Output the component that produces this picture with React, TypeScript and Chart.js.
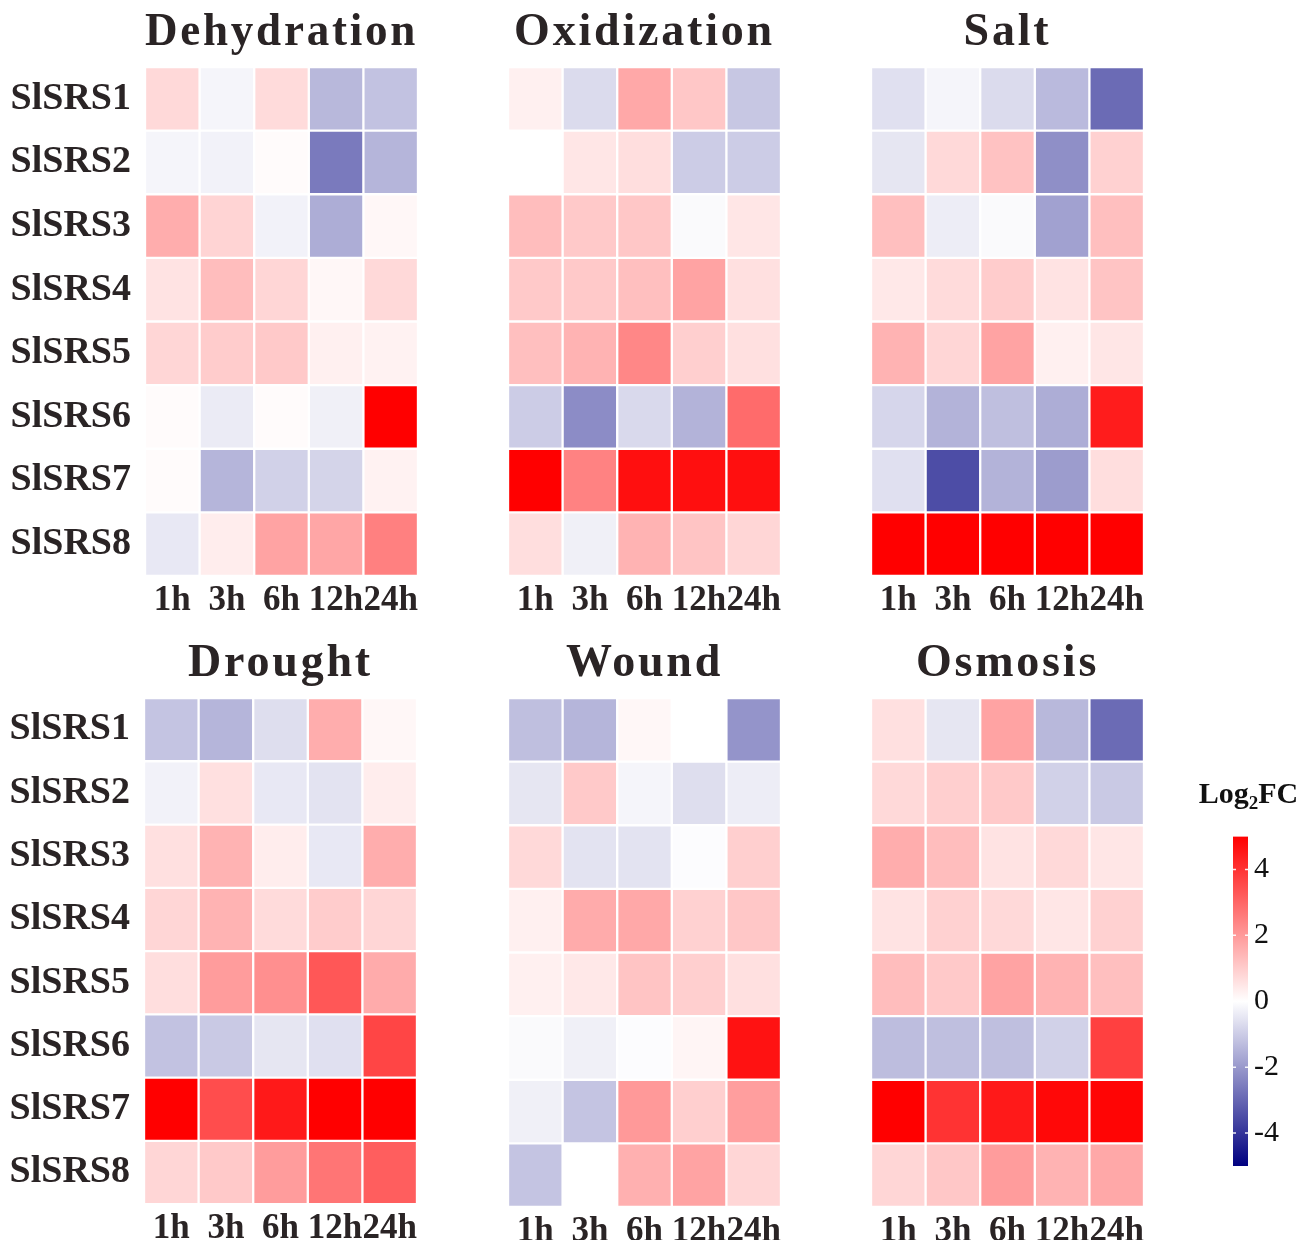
import React, { useEffect, useRef } from 'react';
import { Chart, registerables } from 'chart.js';

Chart.register(...registerables);

// ---------------- data ----------------
const TIMES = ['1h', '3h', '6h', '12h', '24h'];
const GENES = ['SlSRS1', 'SlSRS2', 'SlSRS3', 'SlSRS4', 'SlSRS5', 'SlSRS6', 'SlSRS7', 'SlSRS8'];

const DEHYDRATION = [
  [0.75, -0.2, 0.7, -1.4, -1.2],
  [-0.2, -0.25, 0.08, -2.6, -1.45],
  [1.6, 0.85, -0.25, -1.6, 0.15],
  [0.55, 1.3, 0.8, 0.15, 0.75],
  [0.8, 1.0, 1.05, 0.3, 0.25],
  [0.08, -0.4, 0.08, -0.3, 5.0],
  [0.07, -1.45, -0.9, -0.85, 0.25],
  [-0.45, 0.35, 1.8, 1.75, 2.5],
];
const OXIDIZATION = [
  [0.3, -0.7, 1.7, 1.1, -1.1],
  [0.0, 0.5, 0.65, -1.0, -1.0],
  [1.3, 1.05, 1.1, -0.1, 0.5],
  [1.05, 1.05, 1.25, 1.8, 0.6],
  [1.25, 1.5, 2.35, 0.95, 0.6],
  [-1.0, -2.25, -0.75, -1.5, 2.9],
  [5.0, 2.45, 4.7, 4.7, 4.7],
  [0.65, -0.3, 1.5, 1.15, 0.8],
];
const SALT = [
  [-0.6, -0.2, -0.7, -1.35, -2.9],
  [-0.5, 0.75, 1.2, -2.2, 0.9],
  [1.25, -0.35, -0.1, -1.85, 1.25],
  [0.45, 0.7, 1.0, 0.55, 1.15],
  [1.5, 0.8, 1.8, 0.3, 0.5],
  [-0.8, -1.5, -1.25, -1.6, 4.45],
  [-0.6, -3.5, -1.5, -1.95, 0.65],
  [5.0, 5.0, 5.0, 5.0, 5.0],
];
const DROUGHT = [
  [-1.15, -1.45, -0.65, 1.6, 0.15],
  [-0.25, 0.6, -0.45, -0.55, 0.35],
  [0.6, 1.5, 0.35, -0.45, 1.6],
  [0.8, 1.5, 0.7, 1.0, 0.8],
  [0.65, 1.95, 2.2, 3.3, 1.65],
  [-1.2, -1.05, -0.5, -0.6, 3.65],
  [5.0, 3.5, 4.5, 5.0, 5.0],
  [0.8, 1.05, 1.95, 2.7, 3.15],
];
const WOUND = [
  [-1.25, -1.45, 0.15, 0.0, -2.1],
  [-0.5, 1.05, -0.2, -0.65, -0.35],
  [0.75, -0.55, -0.55, -0.05, 0.95],
  [0.3, 1.65, 1.7, 0.9, 1.1],
  [0.3, 0.45, 1.15, 0.95, 0.6],
  [-0.1, -0.3, -0.05, 0.2, 4.65],
  [-0.3, -1.15, 2.0, 0.95, 1.9],
  [-1.15, 0.0, 1.55, 1.8, 0.8],
];
const OSMOSIS = [
  [0.6, -0.5, 1.8, -1.4, -2.9],
  [0.75, 0.95, 1.05, -0.9, -1.05],
  [1.6, 1.3, 0.55, 0.75, 0.5],
  [0.55, 0.9, 0.75, 0.5, 0.9],
  [1.3, 1.05, 1.8, 1.5, 1.25],
  [-1.3, -1.25, -1.25, -0.9, 3.75],
  [5.0, 4.0, 4.5, 4.85, 4.9],
  [0.8, 1.1, 1.95, 1.5, 1.7],
];

const SCALE_MIN = -5;
const SCALE_MAX = 5;
const SCALE_TICKS = [-4, -2, 0, 2, 4];
const SCALE_STOPS = [5, 4, 3, 2, 1, 0, -1, -2, -3, -4, -5];

// ---------------- styling ----------------
const SERIF = "'Liberation Serif', 'Times New Roman', serif";
const TEXT = '#2a2425';

function colorFor(v: number): string {
  const f = Math.min(1, Math.abs(v) / SCALE_MAX);
  const c = Math.round(255 * (1 - f));
  if (v >= 0) return `rgb(255,${c},${c})`;
  const b = Math.round(255 - 127 * f);
  return `rgb(${c},${c},${b})`;
}

const AREA_W = 273;
const AREA_H = 509;
const TITLE_H = 67;

type PanelCfg = {
  title: string;
  values: number[][];
  areaLeft: number;
  areaTop: number;
  showGenes: boolean;
  xh: number;
};

const PANELS: PanelCfg[] = [
  { title: 'Dehydration', values: DEHYDRATION, areaLeft: 145, areaTop: 67, showGenes: true, xh: 52 },
  { title: 'Oxidization', values: OXIDIZATION, areaLeft: 508, areaTop: 67, showGenes: false, xh: 52 },
  { title: 'Salt', values: SALT, areaLeft: 871, areaTop: 67, showGenes: false, xh: 52 },
  { title: 'Drought', values: DROUGHT, areaLeft: 144, areaTop: 698, showGenes: true, xh: 34 },
  { title: 'Wound', values: WOUND, areaLeft: 508, areaTop: 698, showGenes: false, xh: 34 },
  { title: 'Osmosis', values: OSMOSIS, areaLeft: 871, areaTop: 698, showGenes: false, xh: 34 },
];

const spacedTitle = {
  id: 'spacedTitle',
  beforeDraw(chart: any) {
    const tb = chart.titleBlock;
    if (tb && !tb.__spaced) {
      const orig = tb.draw.bind(tb);
      tb.draw = (...args: any[]) => {
        const ctx = chart.ctx;
        ctx.save();
        (ctx as any).letterSpacing = '2.8px';
        orig(...args);
        ctx.restore();
      };
      tb.__spaced = true;
    }
  },
};

function Heatmap({ cfg }: { cfg: PanelCfg }) {
  const ref = useRef<HTMLCanvasElement | null>(null);
  const yW = cfg.showGenes ? cfg.areaLeft : 0;
  const padL = cfg.showGenes ? 0 : 4;
  const padR = 26;
  const width = padL + yW + AREA_W + padR;
  const height = TITLE_H + AREA_H + cfg.xh;
  const left = cfg.areaLeft - yW - padL;
  const top = cfg.areaTop - TITLE_H;

  useEffect(() => {
    if (!ref.current) return;
    const datasets = GENES.map((g, r) => ({
      label: g,
      data: TIMES.map(() => [r, r + 1]),
      backgroundColor: cfg.values[r].map(colorFor),
      borderColor: '#ffffff',
      borderWidth: 1.5,
      borderSkipped: false,
      categoryPercentage: 1,
      barPercentage: 1,
    }));
    const chart = new Chart(ref.current, {
      type: 'bar',
      data: { labels: TIMES, datasets: datasets as any },
      plugins: [spacedTitle],
      options: {
        responsive: false,
        animation: false,
        devicePixelRatio: 1,
        layout: { padding: { left: padL, right: padR, top: 0, bottom: 0 } },
        plugins: {
          legend: { display: false },
          tooltip: { enabled: false },
          title: {
            display: true,
            fullSize: false,
            text: cfg.title,
            color: TEXT,
            font: { family: SERIF, size: 46, weight: 'bold', lineHeight: '56px' as any },
            padding: { top: 5, bottom: 6 },
          },
        },
        scales: {
          x: {
            type: 'category',
            stacked: true,
            grid: { display: false, drawTicks: false },
            border: { display: false },
            ticks: {
              color: TEXT,
              font: { family: SERIF, size: 35, weight: 'bold' },
              padding: 4,
              maxRotation: 0,
              minRotation: 0,
              autoSkip: false,
            },
            afterFit: (s: any) => {
              s.height = cfg.xh;
            },
          },
          y: {
            type: 'linear',
            min: 0,
            max: GENES.length,
            reverse: true,
            display: cfg.showGenes,
            grid: { display: false, drawTicks: false },
            border: { display: false },
            ticks: {
              color: TEXT,
              font: { family: SERIF, size: 38, weight: 'bold' },
              padding: 14,
              callback: (_v: any, i: number) => GENES[i],
            },
            afterBuildTicks: (s: any) => {
              s.ticks = GENES.map((_, i) => ({ value: i + 0.5 }));
            },
            afterFit: (s: any) => {
              s.width = yW;
            },
          },
        },
      } as any,
    });
    return () => chart.destroy();
  }, []);

  return (
    <canvas
      ref={ref}
      width={width}
      height={height}
      style={{ position: 'absolute', left, top, width, height }}
    />
  );
}

const colorBarDecor = {
  id: 'colorBarDecor',
  afterDatasetsDraw(chart: any) {
    const { ctx, chartArea, scales } = chart;
    const y = scales.y;
    ctx.save();
    ctx.strokeStyle = 'rgba(255,255,255,0.9)';
    ctx.lineWidth = 1.5;
    for (const t of SCALE_TICKS) {
      const py = y.getPixelForValue(t);
      ctx.beginPath();
      ctx.moveTo(chartArea.left, py);
      ctx.lineTo(chartArea.left + 3, py);
      ctx.moveTo(chartArea.right - 3, py);
      ctx.lineTo(chartArea.right, py);
      ctx.stroke();
    }
    ctx.restore();
  },
  afterDraw(chart: any) {
    const ctx = chart.ctx;
    ctx.save();
    ctx.fillStyle = '#111111';
    ctx.textBaseline = 'alphabetic';
    const big = `bold 30px ${SERIF}`;
    const small = `bold 19px ${SERIF}`;
    ctx.font = big;
    const w1 = ctx.measureText('Log').width;
    const w3 = ctx.measureText('FC').width;
    ctx.font = small;
    const w2 = ctx.measureText('2').width;
    const total = w1 + w2 + w3;
    let x = chart.width / 2 - total / 2 - 1;
    const base = 33;
    ctx.textAlign = 'left';
    ctx.font = big;
    ctx.fillText('Log', x, base);
    x += w1;
    ctx.font = small;
    ctx.fillText('2', x, base + 6);
    x += w2;
    ctx.font = big;
    ctx.fillText('FC', x, base);
    ctx.restore();
  },
};

function ColorBar() {
  const ref = useRef<HTMLCanvasElement | null>(null);
  const left = 1190;
  const top = 770;
  const width = 119;
  const height = 420;
  const barLeft = 1233;
  const barW = 15;
  const barTop = 836.5;
  const barBottom = 1169.5;

  useEffect(() => {
    if (!ref.current) return;
    const chart = new Chart(ref.current, {
      type: 'bar',
      data: {
        labels: ['Log2FC'],
        datasets: [
          {
            data: [[SCALE_MIN, SCALE_MAX]],
            categoryPercentage: 1,
            barPercentage: 1,
            borderWidth: 0,
            backgroundColor: (c: any) => {
              const ch = c.chart;
              const ys = ch.scales && ch.scales.y;
              if (!ch.chartArea || !ys) return colorFor(0);
              const g = ch.ctx.createLinearGradient(
                0,
                ys.getPixelForValue(SCALE_MAX),
                0,
                ys.getPixelForValue(SCALE_MIN)
              );
              SCALE_STOPS.forEach((v) => {
                g.addColorStop((SCALE_MAX - v) / (SCALE_MAX - SCALE_MIN), colorFor(v));
              });
              return g;
            },
          } as any,
        ],
      },
      plugins: [colorBarDecor],
      options: {
        responsive: false,
        animation: false,
        devicePixelRatio: 1,
        layout: {
          padding: {
            left: barLeft - left,
            right: 0,
            top: barTop - top,
            bottom: top + height - barBottom,
          },
        },
        plugins: { legend: { display: false }, tooltip: { enabled: false } },
        scales: {
          x: { display: false },
          y: {
            position: 'right',
            min: SCALE_MIN,
            max: SCALE_MAX,
            grid: { display: false, drawTicks: false },
            border: { display: false },
            ticks: {
              color: '#111111',
              font: { family: SERIF, size: 30 },
              padding: 6,
            },
            afterBuildTicks: (s: any) => {
              s.ticks = SCALE_TICKS.map((v) => ({ value: v }));
            },
            afterFit: (s: any) => {
              s.width = width - (barLeft - left) - barW;
            },
          },
        },
      } as any,
    });
    return () => chart.destroy();
  }, []);

  return (
    <canvas
      ref={ref}
      width={width}
      height={height}
      style={{ position: 'absolute', left, top, width, height }}
    />
  );
}

export default function App() {
  useEffect(() => {
    document.body.style.margin = '0';
  }, []);
  return (
    <div
      style={{
        position: 'relative',
        width: 1309,
        height: 1240,
        overflow: 'hidden',
        background: '#ffffff',
      }}
    >
      {PANELS.map((p) => (
        <Heatmap key={p.title} cfg={p} />
      ))}
      <ColorBar />
    </div>
  );
}
